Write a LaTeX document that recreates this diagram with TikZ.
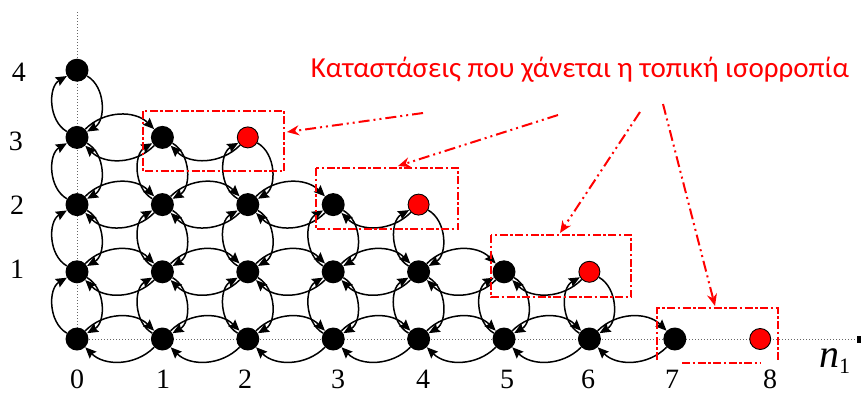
\documentclass[tikz,border=0pt]{standalone}
\usepackage{fontspec}
\setmainfont{Liberation Serif}
\newfontfamily\titlefont{Carlito}
\usetikzlibrary{arrows.meta}
\tikzset{
  bn/.style={circle,fill=black,inner sep=0pt,minimum size=23pt},
  rn/.style={circle,fill=red,draw=black,line width=0.9pt,inner sep=0pt,minimum size=21pt},
  trans/.style={line width=1.5pt,-{Stealth[length=11pt,width=9.5pt,inset=1.5pt]}},
  axis/.style={dotted,line width=1pt,black!60},
  redbox/.style={red,line width=2.6pt,dash pattern=on 8pt off 2.5pt on 2.5pt off 2.5pt},
  redarrow/.style={red,line width=2pt,dash pattern=on 11pt off 4pt on 2pt off 4pt on 2pt off 4pt,-{Stealth[length=12pt,width=10pt]}},
  lab/.style={font=\fontsize{28}{28}\selectfont,inner sep=0pt}
}
\begin{document}
\begin{tikzpicture}[x=1pt,y=-1pt]
\useasboundingbox (0,0) rectangle (861,394);
% axes
\draw[axis] (77,12) -- (77,339);
\draw[axis] (77,339) -- (857,339);
\fill[black] (857,336) rectangle (861,343);
% nodes
\foreach \i in {0,...,8}{
  \foreach \j in {0,...,4}{
    \pgfmathtruncatemacro{\s}{\i+2*\j}
    \pgfmathsetmacro{\xx}{77+85.4*\i}
    \pgfmathsetmacro{\yy}{339-67.2*\j}
    \ifnum\s<8 \node[bn] (n\i\j) at (\xx,\yy) {};\fi
    \ifnum\s=8
      \ifnum\j=4 \node[bn] (n\i\j) at (\xx,\yy) {};\else \node[rn] (n\i\j) at (\xx,\yy) {};\fi
    \fi
  }
}
% horizontal transitions
\foreach \j in {0,...,3}{
  \pgfmathtruncatemacro{\m}{7-2*\j}
  \foreach \i in {0,...,\m}{
    \pgfmathtruncatemacro{\k}{\i+1}
    \pgfmathtruncatemacro{\s}{\k+2*\j}
    \ifnum\s<8
      \draw[trans] (n\i\j) to[bend left=45] (n\k\j);
      \draw[trans] (n\k\j) to[bend left=45] (n\i\j);
    \else
      \ifnum\j>0 \draw[trans] (n\k\j) to[bend left=45] (n\i\j);\fi
    \fi
  }
}
% vertical transitions
\foreach \j in {0,...,3}{
  \pgfmathtruncatemacro{\m}{6-2*\j}
  \pgfmathtruncatemacro{\u}{\j+1}
  \foreach \i in {0,...,\m}{
    \draw[trans] (n\i\j) to[bend left=60] (n\i\u);
    \draw[trans] (n\i\u) to[bend left=60] (n\i\j);
  }
}
% axis labels
\node[lab] (c0) at (77,379) {0};
\node[lab] (c1) at (163,379) {1};
\node[lab] (c2) at (245,379) {2};
\node[lab] (c3) at (338,379) {3};
\node[lab] (c4) at (423,379) {4};
\node[lab] (c5) at (507,379) {5};
\node[lab] (c6) at (588,379) {6};
\node[lab] (c7) at (672,379) {7};
\node[lab] (c8) at (770,379) {8};
\node[lab] (r1) at (17,269) {1};
\node[lab] (r2) at (17,205) {2};
\node[lab] (r3) at (16,141) {3};
\node[lab] (r4) at (19,72) {4};
\node[inner sep=0pt,anchor=base west] (nlab) at (819,367) {\fontsize{40}{40}\selectfont\itshape n\raisebox{-6pt}{\fontsize{22}{22}\selectfont\upshape 1}};
% title
\node[inner sep=0pt,text=red,font=\titlefont\fontsize{29}{29}\selectfont] (title) at (580,70) {Καταστάσεις που χάνεται η τοπική ισορροπία};
% red boxes
\draw[redbox] (143,111) rectangle (284,171);
\draw[redbox] (316,168) rectangle (458,229);
\draw[redbox] (491,235) rectangle (631,297);
\draw[redbox] (657,360) -- (657,308) -- (778,308) -- (778,360);
\draw[redbox] (682,363) -- (760,363);
% red arrows
\coordinate (s1) at (423,113); \coordinate (t1) at (287,132);
\coordinate (s2) at (558,115); \coordinate (t2) at (398,166);
\coordinate (s3) at (640,112); \coordinate (t3) at (560,233);
\coordinate (s4) at (663,104); \coordinate (t4) at (715,306);
\draw[redarrow] (s1) -- (t1);
\draw[redarrow] (s2) -- (t2);
\draw[redarrow] (s3) -- (t3);
\draw[redarrow] (s4) -- (t4);
\end{tikzpicture}
\end{document}
